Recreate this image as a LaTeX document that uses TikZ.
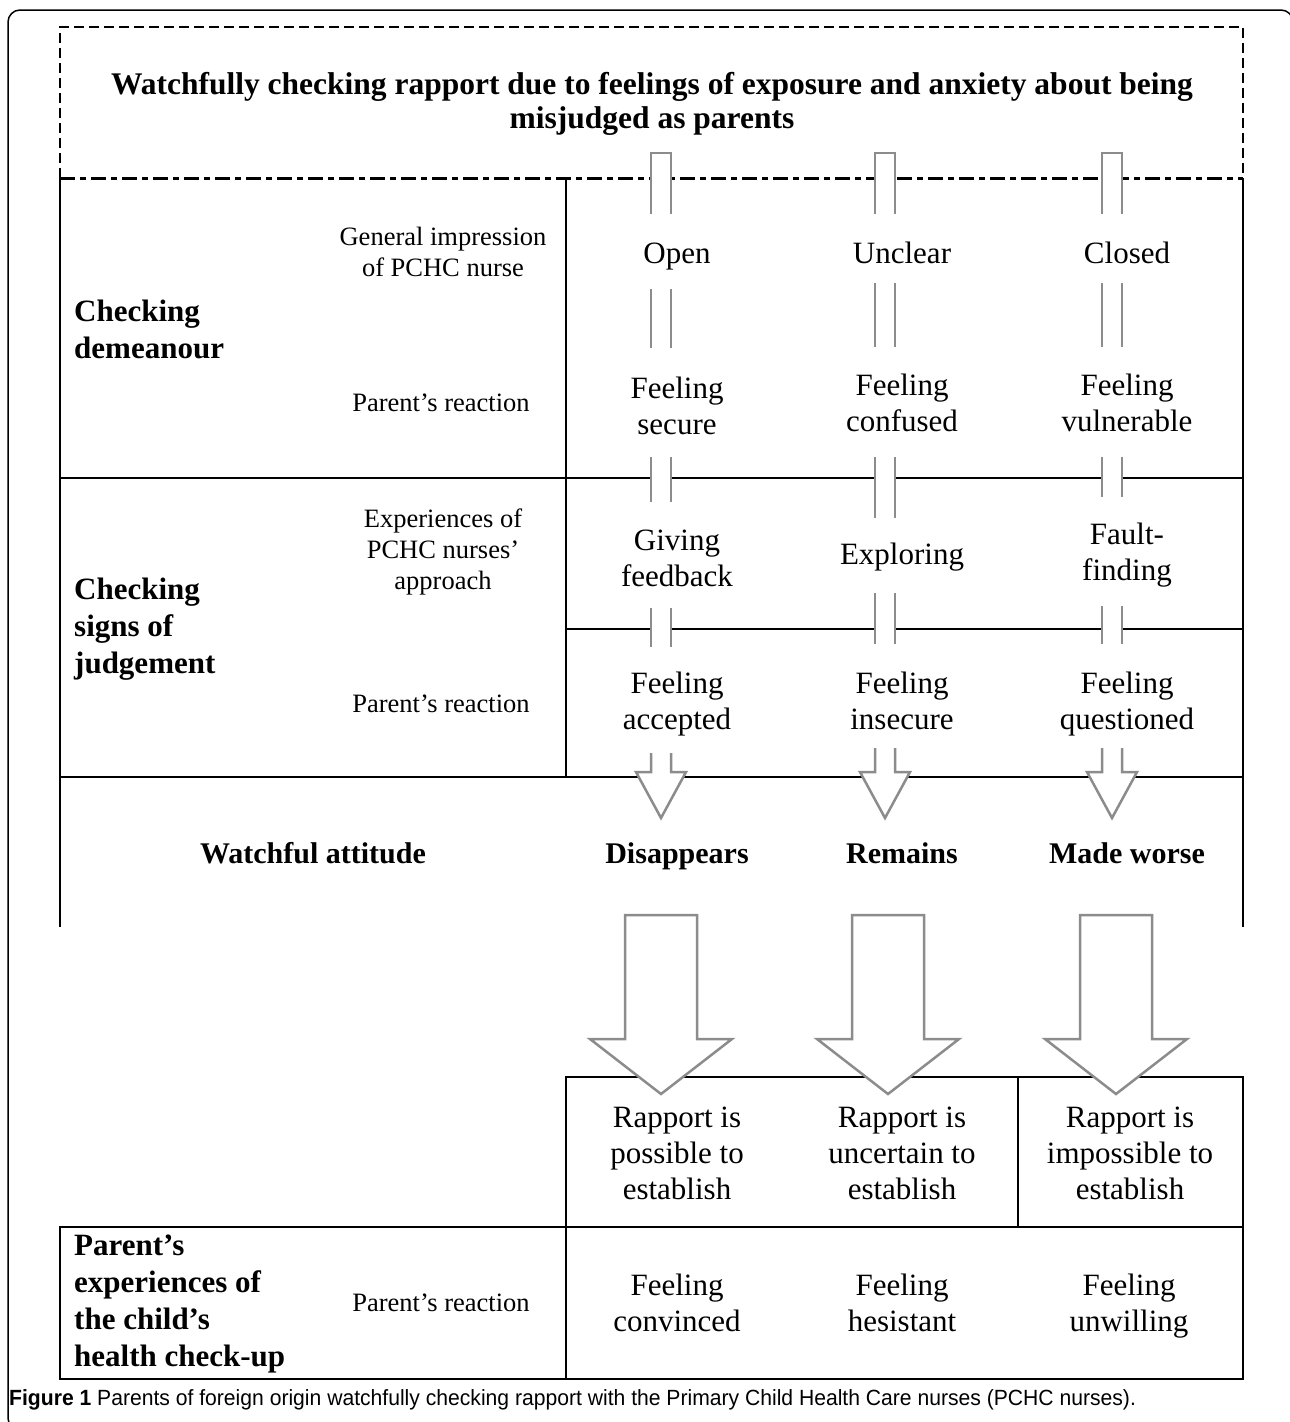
\documentclass[tikz,border=0pt]{standalone}
\usepackage{fontspec}
\setmainfont{Liberation Serif}
\setsansfont{Liberation Sans}
\usepackage{tikz}
\usepackage{xcolor}
\usepackage{graphicx}

\definecolor{pipegray}{gray}{0.55}

\tikzset{
  gridline/.style={line width=2pt, black},
  hollow/.style={draw=pipegray, fill=white, line width=2.5pt, line join=miter},
  headline/.style={font=\fontsize{31.5}{34}\selectfont\bfseries, align=center, inner sep=0pt},
  sidelabel/.style={font=\fontsize{31}{37}\selectfont\bfseries, align=left, anchor=west, inner sep=0pt},
  rowlabel/.style={font=\fontsize{26.5}{31}\selectfont, align=center, inner sep=0pt},
  cell/.style={font=\fontsize{31}{36}\selectfont, align=center, inner sep=0pt},
  outcome/.style={font=\fontsize{30}{34}\selectfont\bfseries, anchor=base, inner sep=0pt},
}

% hollow double line: centre x, top y, bottom y
\newcommand{\pipe}[3]{%
  \fill[white] (#1-10,#2) rectangle (#1+10,#3);
  \draw[hollow] (#1-10,#2) -- (#1-10,#3) (#1+10,#2) -- (#1+10,#3);}
% same, closed at the top
\newcommand{\cappipe}[3]{%
  \filldraw[hollow] (#1-10,#3) -- (#1-10,#2) -- (#1+10,#2) -- (#1+10,#3);}
% small open arrow: centre x, top y
\newcommand{\smallarrow}[2]{%
  \filldraw[hollow] (#1-10,#2) -- (#1-10,772) -- (#1-25,772) -- (#1,818)
    -- (#1+25,772) -- (#1+10,772) -- (#1+10,#2);}
% big closed arrow: centre x
\newcommand{\bigarrow}[1]{%
  \filldraw[hollow] (#1-36,915) -- (#1+36,915) -- (#1+36,1039) -- (#1+71,1039)
    -- (#1,1094) -- (#1-71,1039) -- (#1-36,1039) -- cycle;}

\begin{document}
\begin{tikzpicture}[x=1pt, y=-1pt]
                \useasboundingbox (0,0) rectangle (1290,1422);

                % Outer frame
                \draw[line width=1.5pt, rounded corners=12pt] (8,10) rectangle (1293,1430);

                % Top dashed box
                \draw[line width=1.3pt, dash pattern=on 10pt off 5pt] (60,178) -- (60,27) -- (1243,27) -- (1243,178);
                \node[headline] (title) at (652,104) {Watchfully checking rapport due to feelings of exposure and anxiety about being\\misjudged as parents};
                \draw[line width=3pt, dash pattern=on 15pt off 5pt on 6pt off 5pt] (60,178) -- (1243,178);

                % Table lines
                \draw[gridline] (60,178) -- (60,927);
                \draw[gridline] (1243,178) -- (1243,927);
                \draw[gridline] (566,178) -- (566,777);
                \draw[gridline] (60,478) -- (1243,478);
                \draw[gridline] (566,629) -- (1243,629);
                \draw[gridline] (60,777) -- (1243,777);

                % Bottom boxes
                \draw[gridline] (566,1077) rectangle (1243,1227);
                \draw[gridline] (1018,1077) -- (1018,1227);
                \draw[gridline] (60,1227) rectangle (1243,1379);
                \draw[gridline] (566,1227) -- (566,1379);

                % Checking demeanour
                \node[sidelabel] (demeanour) at (74,329) {Checking\\demeanour};
                \node[rowlabel] (impression) at (443,252) {General impression\\of PCHC nurse};
                \node[rowlabel] (reactionA) at (441,403) {Parent’s reaction};
                \node[cell] (open) at (677,257) {Open};
                \node[cell] (unclear) at (902,253) {Unclear};
                \node[cell] (closed) at (1127,253) {Closed};
                \node[cell] (secure) at (677,406) {Feeling\\secure};
                \node[cell] (confused) at (902,403) {Feeling\\confused};
                \node[cell] (vulnerable) at (1127,403) {Feeling\\vulnerable};

                % Checking signs of judgement
                \node[sidelabel] (judgement) at (74,629) {Checking\\signs of\\judgement};
                \node[rowlabel] (approach) at (443,552) {Experiences of\\PCHC nurses’\\approach};
                \node[rowlabel] (reactionB) at (441,704) {Parent’s reaction};
                \node[cell] (feedback) at (677,558) {Giving\\feedback};
                \node[cell] (exploring) at (902,557) {Exploring};
                \node[cell] (faultfinding) at (1127,555) {Fault-\\finding};
                \node[cell] (accepted) at (677,704) {Feeling\\accepted};
                \node[cell] (insecure) at (902,701) {Feeling\\insecure};
                \node[cell] (questioned) at (1127,704) {Feeling\\questioned};

                % Watchful attitude
                \node[outcome] (attitude) at (313,863) {Watchful attitude};
                \node[outcome] (disappears) at (677,863) {Disappears};
                \node[outcome] (remains) at (902,863) {Remains};
                \node[outcome] (worse) at (1127,863) {Made worse};

                % Rapport
                \node[cell] (possible) at (677,1153) {Rapport is\\possible to\\establish};
                \node[cell] (uncertain) at (902,1153) {Rapport is\\uncertain to\\establish};
                \node[cell] (impossible) at (1130,1153) {Rapport is\\impossible to\\establish};

                % Parent's experiences
                \node[sidelabel] (checkup) at (74,1304) {Parent’s\\experiences of\\the child’s\\health check-up};
                \node[rowlabel] (reactionC) at (441,1303) {Parent’s reaction};
                \node[cell] (convinced) at (677,1303) {Feeling\\convinced};
                \node[cell] (hesistant) at (902,1303) {Feeling\\hesistant};
                \node[cell] (unwilling) at (1129,1306) {Feeling\\unwilling};

                % Double lines, column 1
                \cappipe{661}{153}{214}
                \pipe{661}{289}{348}
                \pipe{661}{457}{502}
                \pipe{661}{608}{647}
                \smallarrow{661}{753}
                \bigarrow{661}

                % Double lines, column 2
                \cappipe{885}{153}{214}
                \pipe{885}{283}{347}
                \pipe{885}{457}{518}
                \pipe{885}{593}{644}
                \smallarrow{885}{748}
                \bigarrow{888}

                % Double lines, column 3
                \cappipe{1112}{153}{214}
                \pipe{1112}{283}{347}
                \pipe{1112}{457}{497}
                \pipe{1112}{606}{644}
                \smallarrow{1112}{748}
                \bigarrow{1116}

                % Caption
                \node[anchor=west, inner sep=0pt, font=\sffamily\fontsize{22}{26}\selectfont] (caption) at (9,1400)
                  {\scalebox{0.96}[1]{\textbf{Figure 1} Parents of foreign origin watchfully checking rapport with the Primary Child Health Care nurses (PCHC nurses).}};
            \end{tikzpicture}
\end{document}
